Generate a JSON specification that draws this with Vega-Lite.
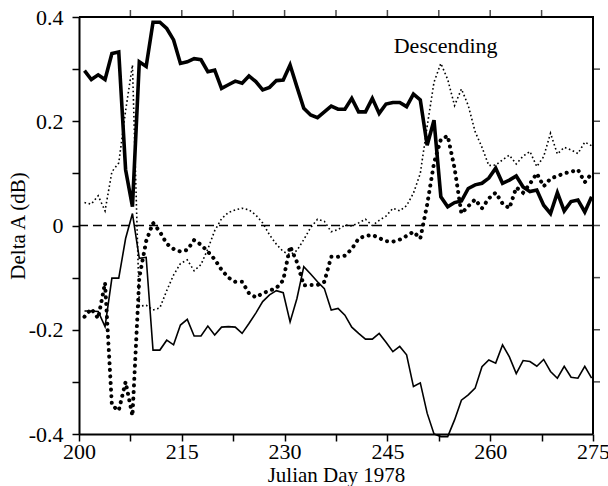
{
  "$schema": "https://vega.github.io/schema/vega-lite/v6.json",
  "autosize": {"type": "none"},
  "padding": {"left": 79, "top": 17, "right": 15, "bottom": 52},
  "width": 514,
  "height": 417,
  "background": "white",
  "config": {
    "view": {"stroke": null},
    "font": "Liberation Serif",
    "axis": {
      "domainColor": "black", "domainWidth": 2, "tickColor": "black", "tickWidth": 1.5, "tickSize": 7,
      "labelColor": "black", "labelFont": "Liberation Serif", "labelFontSize": 22,
      "titleColor": "black", "titleFont": "Liberation Serif", "titleFontSize": 21, "titleFontWeight": "normal",
      "grid": false
    }
  },
  "datasets": {
    "thickSolid": [
      {"d":200.8,"v":0.297},{"d":201.8,"v":0.28},{"d":202.8,"v":0.289},{"d":203.8,"v":0.28},{"d":204.8,"v":0.33},
      {"d":205.8,"v":0.333},{"d":206.8,"v":0.107},{"d":207.8,"v":0.036},{"d":208.8,"v":0.314},{"d":209.8,"v":0.305},
      {"d":210.8,"v":0.39},{"d":211.8,"v":0.39},{"d":212.8,"v":0.378},{"d":213.8,"v":0.356},{"d":214.8,"v":0.311},
      {"d":215.8,"v":0.314},{"d":216.8,"v":0.32},{"d":217.8,"v":0.318},{"d":218.8,"v":0.295},{"d":219.8,"v":0.298},
      {"d":220.8,"v":0.263},{"d":221.8,"v":0.27},{"d":222.8,"v":0.277},{"d":223.8,"v":0.273},{"d":224.8,"v":0.287},
      {"d":225.8,"v":0.276},{"d":226.8,"v":0.26},{"d":227.8,"v":0.265},{"d":228.8,"v":0.278},{"d":229.8,"v":0.279},
      {"d":230.8,"v":0.308},{"d":231.8,"v":0.266},{"d":232.8,"v":0.225},{"d":233.8,"v":0.212},{"d":234.8,"v":0.207},
      {"d":235.8,"v":0.218},{"d":236.8,"v":0.229},{"d":237.8,"v":0.223},{"d":238.8,"v":0.223},{"d":239.8,"v":0.244},
      {"d":240.8,"v":0.218},{"d":241.8,"v":0.218},{"d":242.8,"v":0.244},{"d":243.8,"v":0.215},{"d":244.8,"v":0.233},
      {"d":245.8,"v":0.236},{"d":246.8,"v":0.236},{"d":247.8,"v":0.228},{"d":248.8,"v":0.252},{"d":249.8,"v":0.241},
      {"d":250.8,"v":0.154},{"d":251.8,"v":0.202},{"d":252.8,"v":0.055},{"d":253.8,"v":0.036},{"d":254.8,"v":0.044},
      {"d":255.8,"v":0.047},{"d":256.8,"v":0.071},{"d":257.8,"v":0.078},{"d":258.8,"v":0.081},{"d":259.8,"v":0.091},
      {"d":260.8,"v":0.11},{"d":261.8,"v":0.081},{"d":262.8,"v":0.087},{"d":263.8,"v":0.095},{"d":264.8,"v":0.074},
      {"d":265.8,"v":0.065},{"d":266.8,"v":0.068},{"d":267.8,"v":0.039},{"d":268.8,"v":0.023},{"d":269.8,"v":0.063},
      {"d":270.8,"v":0.028},{"d":271.8,"v":0.046},{"d":272.8,"v":0.049},{"d":273.8,"v":0.026},{"d":274.8,"v":0.055}
    ],
    "thinSolid": [
      {"d":200.8,"v":-0.164},{"d":201.8,"v":-0.164},{"d":202.8,"v":-0.165},{"d":203.8,"v":-0.194},{"d":204.8,"v":-0.101},
      {"d":205.8,"v":-0.101},{"d":206.8,"v":-0.025},{"d":207.8,"v":0.023},{"d":208.8,"v":-0.063},{"d":209.8,"v":-0.061},
      {"d":210.8,"v":-0.239},{"d":211.8,"v":-0.239},{"d":212.8,"v":-0.22},{"d":213.8,"v":-0.229},{"d":214.8,"v":-0.191},
      {"d":215.8,"v":-0.18},{"d":216.8,"v":-0.212},{"d":217.8,"v":-0.212},{"d":218.8,"v":-0.193},{"d":219.8,"v":-0.21},
      {"d":220.8,"v":-0.195},{"d":221.8,"v":-0.194},{"d":222.8,"v":-0.195},{"d":223.8,"v":-0.207},{"d":224.8,"v":-0.188},
      {"d":225.8,"v":-0.168},{"d":226.8,"v":-0.146},{"d":227.8,"v":-0.133},{"d":228.8,"v":-0.125},{"d":229.8,"v":-0.129},
      {"d":230.8,"v":-0.185},{"d":231.8,"v":-0.14},{"d":232.8,"v":-0.079},{"d":233.8,"v":-0.093},{"d":234.8,"v":-0.108},
      {"d":235.8,"v":-0.121},{"d":236.8,"v":-0.162},{"d":237.8,"v":-0.159},{"d":238.8,"v":-0.172},{"d":239.8,"v":-0.195},
      {"d":240.8,"v":-0.207},{"d":241.8,"v":-0.218},{"d":242.8,"v":-0.218},{"d":243.8,"v":-0.207},{"d":244.8,"v":-0.224},
      {"d":245.8,"v":-0.242},{"d":246.8,"v":-0.232},{"d":247.8,"v":-0.248},{"d":248.8,"v":-0.309},{"d":249.8,"v":-0.302},
      {"d":250.8,"v":-0.36},{"d":251.8,"v":-0.4},{"d":252.8,"v":-0.405},{"d":253.8,"v":-0.405},{"d":254.8,"v":-0.373},
      {"d":255.8,"v":-0.335},{"d":256.8,"v":-0.325},{"d":257.8,"v":-0.312},{"d":258.8,"v":-0.271},{"d":259.8,"v":-0.258},
      {"d":260.8,"v":-0.264},{"d":261.8,"v":-0.229},{"d":262.8,"v":-0.252},{"d":263.8,"v":-0.284},{"d":264.8,"v":-0.259},
      {"d":265.8,"v":-0.261},{"d":266.8,"v":-0.27},{"d":267.8,"v":-0.257},{"d":268.8,"v":-0.28},{"d":269.8,"v":-0.293},
      {"d":270.8,"v":-0.27},{"d":271.8,"v":-0.291},{"d":272.8,"v":-0.293},{"d":273.8,"v":-0.27},{"d":274.8,"v":-0.293}
    ],
    "thickDotted": [
      {"d":200.8,"v":-0.175},{"d":201.8,"v":-0.16},{"d":202.8,"v":-0.178},{"d":203.8,"v":-0.11},{"d":204.8,"v":-0.345},
      {"d":205.8,"v":-0.355},{"d":206.8,"v":-0.3},{"d":207.8,"v":-0.365},{"d":208.8,"v":-0.1},{"d":209.8,"v":-0.03},
      {"d":210.8,"v":0.005},{"d":211.8,"v":-0.012},{"d":212.8,"v":-0.035},{"d":213.8,"v":-0.045},{"d":214.8,"v":-0.05},
      {"d":215.8,"v":-0.047},{"d":216.8,"v":-0.028},{"d":217.8,"v":-0.037},{"d":218.8,"v":-0.05},{"d":219.8,"v":-0.065},
      {"d":220.8,"v":-0.085},{"d":221.8,"v":-0.1},{"d":222.8,"v":-0.108},{"d":223.8,"v":-0.108},{"d":224.8,"v":-0.13},
      {"d":225.8,"v":-0.138},{"d":226.8,"v":-0.13},{"d":227.8,"v":-0.125},{"d":228.8,"v":-0.12},{"d":229.8,"v":-0.105},
      {"d":230.8,"v":-0.04},{"d":231.8,"v":-0.07},{"d":232.8,"v":-0.115},{"d":233.8,"v":-0.114},{"d":234.8,"v":-0.114},
      {"d":235.8,"v":-0.108},{"d":236.8,"v":-0.06},{"d":237.8,"v":-0.06},{"d":238.8,"v":-0.058},{"d":239.8,"v":-0.045},
      {"d":240.8,"v":-0.025},{"d":241.8,"v":-0.02},{"d":242.8,"v":-0.018},{"d":243.8,"v":-0.024},{"d":244.8,"v":-0.03},
      {"d":245.8,"v":-0.031},{"d":246.8,"v":-0.027},{"d":247.8,"v":-0.02},{"d":248.8,"v":-0.012},{"d":249.8,"v":-0.025},
      {"d":250.8,"v":0.04},{"d":251.8,"v":0.12},{"d":252.8,"v":0.165},{"d":253.8,"v":0.172},{"d":254.8,"v":0.11},
      {"d":255.8,"v":0.023},{"d":256.8,"v":0.037},{"d":257.8,"v":0.05},{"d":258.8,"v":0.033},{"d":259.8,"v":0.052},
      {"d":260.8,"v":0.063},{"d":261.8,"v":0.042},{"d":262.8,"v":0.033},{"d":263.8,"v":0.073},{"d":264.8,"v":0.063},
      {"d":265.8,"v":0.08},{"d":266.8,"v":0.1},{"d":267.8,"v":0.075},{"d":268.8,"v":0.09},{"d":269.8,"v":0.095},
      {"d":270.8,"v":0.1},{"d":271.8,"v":0.103},{"d":272.8,"v":0.107},{"d":273.8,"v":0.083},{"d":274.8,"v":0.1}
    ],
    "thinDotted": [
      {"d":200.8,"v":0.044},{"d":201.8,"v":0.041},{"d":202.8,"v":0.057},{"d":203.8,"v":0.028},{"d":204.8,"v":0.103},
      {"d":205.8,"v":0.12},{"d":206.8,"v":0.22},{"d":207.8,"v":0.308},{"d":208.8,"v":-0.155},{"d":209.8,"v":-0.153},
      {"d":210.8,"v":-0.162},{"d":211.8,"v":-0.158},{"d":212.8,"v":-0.125},{"d":213.8,"v":-0.095},{"d":214.8,"v":-0.073},
      {"d":215.8,"v":-0.066},{"d":216.8,"v":-0.087},{"d":217.8,"v":-0.075},{"d":218.8,"v":-0.045},{"d":219.8,"v":-0.01},
      {"d":220.8,"v":0.013},{"d":221.8,"v":0.025},{"d":222.8,"v":0.03},{"d":223.8,"v":0.033},{"d":224.8,"v":0.03},
      {"d":225.8,"v":0.02},{"d":226.8,"v":0.005},{"d":227.8,"v":-0.018},{"d":228.8,"v":-0.036},{"d":229.8,"v":-0.05},
      {"d":230.8,"v":-0.056},{"d":231.8,"v":-0.048},{"d":232.8,"v":-0.027},{"d":233.8,"v":-0.004},{"d":234.8,"v":0.012},
      {"d":235.8,"v":0.008},{"d":236.8,"v":-0.012},{"d":237.8,"v":-0.008},{"d":238.8,"v":0.001},{"d":239.8,"v":-0.001},
      {"d":240.8,"v":0.005},{"d":241.8,"v":0.012},{"d":242.8,"v":0.0},{"d":243.8,"v":0.01},{"d":244.8,"v":0.018},
      {"d":245.8,"v":0.033},{"d":246.8,"v":0.028},{"d":247.8,"v":0.038},{"d":248.8,"v":0.062},{"d":249.8,"v":0.1},
      {"d":250.8,"v":0.19},{"d":251.8,"v":0.275},{"d":252.8,"v":0.311},{"d":253.8,"v":0.28},{"d":254.8,"v":0.23},
      {"d":255.8,"v":0.262},{"d":256.8,"v":0.23},{"d":257.8,"v":0.18},{"d":258.8,"v":0.15},{"d":259.8,"v":0.115},
      {"d":260.8,"v":0.116},{"d":261.8,"v":0.126},{"d":262.8,"v":0.135},{"d":263.8,"v":0.118},{"d":264.8,"v":0.133},
      {"d":265.8,"v":0.142},{"d":266.8,"v":0.113},{"d":267.8,"v":0.132},{"d":268.8,"v":0.177},{"d":269.8,"v":0.137},
      {"d":270.8,"v":0.15},{"d":271.8,"v":0.145},{"d":272.8,"v":0.138},{"d":273.8,"v":0.16},{"d":274.8,"v":0.153}
    ],
    "zero": [{"d":200,"v":0},{"d":275,"v":0}],
    "frame": [{"d":200,"v":0.4},{"d":275,"v":0.4},{"d":275,"v":-0.4}],
    "topTicks": [{"d":207.5,"v":0.4},{"d":215,"v":0.4},{"d":222.5,"v":0.4},{"d":230,"v":0.4},{"d":237.5,"v":0.4},{"d":245,"v":0.4},{"d":252.5,"v":0.4},{"d":260,"v":0.4},{"d":267.5,"v":0.4}],
    "rightTicks": [{"d":275,"v":-0.3},{"d":275,"v":-0.2},{"d":275,"v":-0.1},{"d":275,"v":0},{"d":275,"v":0.1},{"d":275,"v":0.2},{"d":275,"v":0.3}],
    "label": [{"d":253.5,"v":0.345,"t":"Descending"}]
  },
  "encoding": {
    "x": {"field": "d", "type": "quantitative",
          "scale": {"domain": [200, 275], "nice": false, "zero": false},
          "axis": {"orient": "bottom", "title": "Julian Day  1978", "titlePadding": 2,
                   "values": [200,207.5,215,222.5,230,237.5,245,252.5,260,267.5,275],
                   "labelExpr": "datum.value % 15 == 5 ? datum.label : ''",
                   "labelPadding": 0, "labelFlush": false}},
    "y": {"field": "v", "type": "quantitative",
          "scale": {"domain": [-0.4, 0.4], "nice": false, "zero": false},
          "axis": {"orient": "left", "title": "Delta A (dB)", "titlePadding": 0,
                   "values": [-0.4,-0.3,-0.2,-0.1,0,0.1,0.2,0.3,0.4],
                   "labelExpr": "abs(round(datum.value*10)) % 2 == 0 ? (datum.value == 0 ? '0' : (datum.value < 0 ? '-' + format(-datum.value, '.1f') : format(datum.value, '.1f'))) : ''",
                   "labelPadding": 9}}
  },
  "layer": [
    {"data": {"name": "frame"}, "mark": {"type": "line", "color": "black", "strokeWidth": 2, "clip": false}},
    {"data": {"name": "topTicks"}, "mark": {"type": "tick", "orient": "vertical", "color": "black", "size": 7, "thickness": 1.5, "yOffset": -3.5, "clip": false}},
    {"data": {"name": "rightTicks"}, "mark": {"type": "tick", "orient": "horizontal", "color": "black", "size": 7, "thickness": 1.5, "xOffset": 3.5, "clip": false}},
    {"data": {"name": "zero"}, "mark": {"type": "line", "color": "black", "strokeWidth": 1.6, "strokeDash": [9, 5]}},
    {"data": {"name": "thinDotted"}, "mark": {"type": "line", "color": "black", "strokeWidth": 1.6, "strokeDash": [1.6, 2.6], "clip": false}},
    {"data": {"name": "thickDotted"}, "mark": {"type": "line", "color": "black", "strokeWidth": 4, "strokeDash": [0.1, 6.5], "strokeCap": "round", "clip": false}},
    {"data": {"name": "thinSolid"}, "mark": {"type": "line", "color": "black", "strokeWidth": 1.6, "clip": false}},
    {"data": {"name": "thickSolid"}, "mark": {"type": "line", "color": "black", "strokeWidth": 3.6, "strokeJoin": "miter", "clip": false}},
    {"data": {"name": "label"}, "mark": {"type": "text", "font": "Liberation Serif", "fontSize": 22, "color": "black"},
     "encoding": {"text": {"field": "t"}}}
  ]
}
